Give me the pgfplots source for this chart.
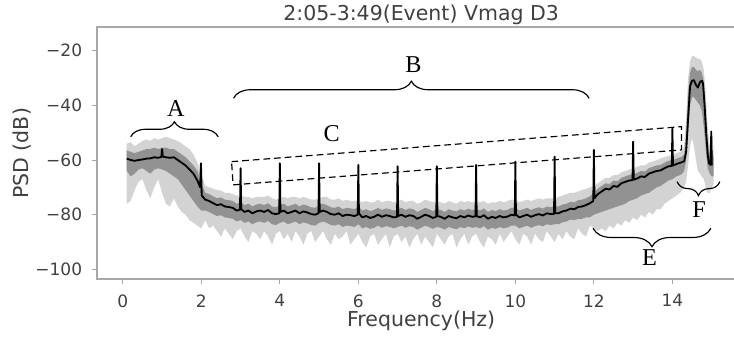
\documentclass[border=0pt]{standalone}
\usepackage{fontspec}
\setmainfont{DejaVu Sans}
\newfontfamily\annfont{Liberation Serif}
\usepackage{pgfplots}
\usepackage{pgfplotstable}
\pgfplotsset{compat=1.18}
\usepgfplotslibrary{fillbetween}
\usetikzlibrary{decorations.pathreplacing}
\definecolor{txt}{HTML}{404040}
\definecolor{spine}{HTML}{A8A8A8}
\definecolor{bandout}{HTML}{D3D3D3}
\definecolor{bandin}{HTML}{929292}

\pgfplotstableread{
f u2 u1 l1 l2
0.1 -54.0 -56.5 -64.0 -76
0.2 -53.5 -57.0 -66.0 -75
0.3 -55.0 -57.5 -65.0 -71
0.4 -54.0 -57.0 -63.5 -68
0.5 -53.0 -56.5 -63.0 -67
0.6 -52.5 -56.0 -64.0 -71
0.7 -53.0 -56.0 -65.0 -74
0.8 -52.0 -55.5 -63.5 -70
0.9 -52.5 -56.0 -63.0 -67
1.0 -52.0 -55.5 -63.5 -72
1.1 -51.5 -55.5 -64.0 -76
1.2 -52.0 -56.0 -65.0 -77
1.3 -52.5 -56.0 -66.0 -74
1.4 -53.0 -57.0 -67.0 -77
1.5 -54.0 -58.0 -69.0 -79
1.6 -55.0 -59.0 -71.0 -80
1.7 -56.0 -60.5 -73.0 -82
1.8 -58.0 -62.0 -75.0 -83
1.9 -61.0 -64.0 -77.0 -84
2.0 -65.0 -68.5 -78.5 -85
2.1 -69.5 -72.0 -78.5 -82
2.2 -70.0 -72.5 -79.0 -85
2.3 -70.5 -73.3 -79.8 -84
2.4 -71.0 -74.0 -80.5 -86
2.5 -71.2 -73.7 -80.2 -88
2.6 -72.0 -74.5 -81.0 -85
2.7 -72.0 -74.7 -81.2 -87
2.8 -72.5 -75.0 -81.5 -89
2.9 -73.0 -76.0 -82.5 -86
3.0 -73.0 -75.5 -82.0 -85
3.1 -73.5 -76.5 -83.0 -88
3.2 -73.5 -76.0 -82.5 -90
3.3 -74.0 -77.0 -83.5 -86
3.4 -73.5 -76.3 -82.8 -87
3.5 -73.5 -76.0 -82.5 -89
3.6 -73.5 -76.5 -83.0 -86
3.7 -73.0 -75.8 -82.3 -88
3.8 -74.0 -77.0 -83.5 -91
3.9 -74.5 -77.3 -83.8 -87
4.0 -74.0 -76.5 -83.0 -86
4.1 -73.5 -76.0 -82.5 -89
4.2 -74.0 -77.0 -83.5 -87
4.3 -73.5 -76.5 -83.0 -90
4.4 -73.5 -76.0 -82.5 -86
4.5 -74.0 -77.0 -83.5 -88
4.6 -73.5 -76.3 -82.8 -91
4.7 -74.0 -76.7 -83.2 -87
4.8 -74.5 -77.3 -83.8 -86
4.9 -74.5 -77.5 -84.0 -90
5.0 -74.0 -76.5 -83.0 -88
5.1 -73.5 -76.0 -82.5 -86
5.2 -73.5 -76.5 -83.0 -89
5.3 -74.5 -77.3 -83.8 -91
5.4 -74.5 -77.5 -84.0 -87
5.5 -74.0 -77.0 -83.5 -89
5.6 -75.0 -78.0 -84.5 -88
5.7 -74.5 -77.5 -84.0 -86
5.8 -75.0 -77.7 -84.2 -91
5.9 -75.0 -78.0 -84.5 -89
6.0 -74.5 -77.0 -83.5 -87
6.1 -75.5 -78.5 -85.0 -90
6.2 -75.0 -78.0 -84.5 -92
6.3 -75.5 -78.7 -85.2 -88
6.4 -75.5 -78.3 -84.8 -87
6.5 -74.5 -77.5 -84.0 -91
6.6 -75.5 -78.3 -84.8 -89
6.7 -75.0 -77.7 -84.2 -87
6.8 -75.0 -78.0 -84.5 -92
6.9 -75.5 -78.5 -85.0 -88
7.0 -75.0 -78.0 -84.5 -87
7.1 -74.5 -77.5 -84.0 -90
7.2 -75.5 -78.3 -84.8 -88
7.3 -75.0 -77.7 -84.2 -92
7.4 -75.0 -78.0 -84.5 -89
7.5 -76.0 -79.0 -85.5 -87
7.6 -75.5 -78.3 -84.8 -91
7.7 -74.5 -77.5 -84.0 -88
7.8 -75.0 -78.0 -84.5 -90
7.9 -75.5 -78.7 -85.2 -92
8.0 -75.0 -78.0 -84.5 -87
8.1 -75.5 -78.3 -84.8 -89
8.2 -76.0 -79.0 -85.5 -91
8.3 -75.0 -78.0 -84.5 -88
8.4 -75.5 -78.5 -85.0 -87
8.5 -76.0 -78.8 -85.3 -92
8.6 -75.0 -78.0 -84.5 -89
8.7 -75.5 -78.5 -85.0 -87
8.8 -75.0 -77.8 -84.3 -91
8.9 -75.5 -78.3 -84.8 -88
9.0 -75.0 -78.0 -84.5 -87
9.1 -75.5 -78.5 -85.0 -90
9.2 -75.0 -77.7 -84.2 -92
9.3 -76.0 -79.0 -85.5 -88
9.4 -75.5 -78.3 -84.8 -89
9.5 -75.5 -78.7 -85.2 -91
9.6 -75.0 -78.0 -84.5 -87
9.7 -75.5 -78.5 -85.0 -90
9.8 -75.0 -78.2 -84.7 -88
9.9 -74.5 -77.5 -84.0 -86
10.0 -74.5 -77.5 -84.0 -89
10.1 -75.5 -78.5 -85.0 -91
10.2 -75.0 -78.0 -84.5 -87
10.3 -74.5 -77.5 -84.0 -88
10.4 -75.0 -78.3 -84.8 -91
10.5 -74.5 -77.7 -84.2 -87
10.6 -74.0 -77.3 -83.8 -89
10.7 -74.5 -77.8 -84.3 -90
10.8 -74.0 -77.0 -83.5 -86
10.9 -74.0 -77.3 -83.8 -88
11.0 -74.0 -77.0 -83.5 -90
11.1 -73.5 -77.0 -83.5 -87
11.2 -73.0 -76.3 -82.8 -89
11.3 -72.5 -76.0 -82.5 -86
11.4 -72.0 -75.3 -81.8 -88
11.5 -72.0 -75.5 -82.0 -89
11.6 -71.5 -74.7 -81.5 -85
11.7 -71.0 -74.5 -81.5 -87
11.8 -70.5 -74.0 -81.0 -88
11.9 -70.0 -73.3 -81.0 -84
12.0 -69.5 -72.0 -80.0 -85
12.1 -68.5 -70.5 -79.5 -86
12.2 -67.5 -69.5 -79.0 -85
12.3 -66.5 -68.5 -78.5 -86
12.4 -66.5 -68.8 -78.0 -84
12.5 -65.5 -67.5 -77.5 -85
12.6 -65.5 -67.8 -77.0 -83
12.7 -64.5 -66.5 -76.5 -84
12.8 -64.0 -66.0 -76.0 -82
12.9 -63.5 -65.5 -75.0 -83
13.0 -63.0 -65.2 -74.5 -81
13.1 -62.5 -64.8 -74.0 -82
13.2 -62.0 -64.0 -73.0 -80
13.3 -62.0 -64.2 -72.5 -81
13.4 -61.0 -63.0 -72.0 -79
13.5 -60.5 -62.5 -71.0 -80
13.6 -60.0 -62.0 -70.0 -78
13.7 -59.5 -61.8 -69.5 -78
13.8 -59.0 -61.0 -68.5 -76
13.9 -58.5 -60.3 -67.5 -75
14.0 -58.0 -60.0 -67.0 -74
14.1 -57.5 -59.5 -66.0 -73
14.2 -57.0 -59.0 -65.5 -72
14.25 -56.5 -58.7 -65.0 -71
14.30 -55.0 -58.0 -64.0 -70
14.35 -45.0 -50.0 -60.0 -68
14.40 -30.0 -36.0 -50.0 -62
14.45 -24.0 -28.0 -40.0 -55
14.50 -22.0 -26.0 -37.0 -52
14.55 -22.0 -26.0 -37.0 -55
14.60 -22.5 -27.0 -38.0 -60
14.65 -23.0 -27.5 -39.0 -64
14.70 -23.0 -27.0 -40.0 -65
14.75 -24.0 -28.0 -42.0 -66
14.80 -27.0 -31.0 -48.0 -67
14.85 -35.0 -42.0 -56.0 -70
14.90 -48.0 -53.0 -63.0 -72
14.95 -55.0 -58.0 -65.0 -72
15.00 -50.0 -56.0 -66.0 -70
15.05 -56.0 -59.0 -66.0 -69
}\band

\pgfplotstableread{
f m
0.10 -59.5
0.20 -60.0
0.30 -60.3
0.40 -60.0
0.50 -59.8
0.60 -59.5
0.70 -59.4
0.80 -59.0
0.90 -59.2
0.98 -58.9
1.00 -56.0
1.02 -58.8
1.10 -59.0
1.20 -59.2
1.30 -59.0
1.40 -60.0
1.50 -61.0
1.60 -62.0
1.70 -63.5
1.80 -65.0
1.90 -67.5
1.97 -70.0
1.99 -61.2
2.01 -73.0
2.10 -74.5
2.20 -75.0
2.30 -75.8
2.40 -76.5
2.50 -76.2
2.60 -77.0
2.70 -77.2
2.80 -77.5
2.90 -78.5
2.985 -78.2
3.00 -63.0
3.015 -78.0
3.10 -79.0
3.20 -78.5
3.30 -79.5
3.40 -78.8
3.50 -78.5
3.60 -79.0
3.70 -78.3
3.80 -79.5
3.90 -79.8
3.985 -79.5
4.00 -61.2
4.015 -79.0
4.10 -78.5
4.20 -79.5
4.30 -79.0
4.40 -78.5
4.50 -79.5
4.60 -78.8
4.70 -79.2
4.80 -79.8
4.90 -80.0
4.985 -79.5
5.00 -61.2
5.015 -79.0
5.10 -78.5
5.20 -79.0
5.30 -79.8
5.40 -80.0
5.50 -79.5
5.60 -80.5
5.70 -80.0
5.80 -80.2
5.90 -80.5
5.985 -80.0
6.00 -61.8
6.015 -79.5
6.10 -81.0
6.20 -80.5
6.30 -81.2
6.40 -80.8
6.50 -80.0
6.60 -80.8
6.70 -80.2
6.80 -80.5
6.90 -81.0
6.985 -80.8
7.00 -62.3
7.015 -80.5
7.10 -80.0
7.20 -80.8
7.30 -80.2
7.40 -80.5
7.50 -81.5
7.60 -80.8
7.70 -80.0
7.80 -80.5
7.90 -81.2
7.985 -80.8
8.00 -62.3
8.015 -80.5
8.10 -80.8
8.20 -81.5
8.30 -80.5
8.40 -81.0
8.50 -81.3
8.60 -80.5
8.70 -81.0
8.80 -80.3
8.90 -80.8
8.985 -80.6
9.00 -61.8
9.015 -80.5
9.10 -81.0
9.20 -80.2
9.30 -81.5
9.40 -80.8
9.50 -81.2
9.60 -80.5
9.70 -81.0
9.80 -80.7
9.90 -80.0
9.985 -80.3
10.00 -60.6
10.015 -80.0
10.10 -81.0
10.20 -80.5
10.30 -80.0
10.40 -80.8
10.50 -80.2
10.60 -79.8
10.70 -80.3
10.80 -79.5
10.90 -79.8
10.985 -79.7
11.00 -58.8
11.015 -79.5
11.10 -79.5
11.20 -78.8
11.30 -78.5
11.40 -77.8
11.50 -78.0
11.60 -77.2
11.70 -77.0
11.80 -76.5
11.90 -75.8
11.985 -75.0
12.00 -56.3
12.015 -74.0
12.10 -72.5
12.20 -71.5
12.30 -70.5
12.40 -70.8
12.50 -69.5
12.60 -69.8
12.70 -68.5
12.80 -68.0
12.90 -67.5
12.985 -67.4
13.00 -53.3
13.015 -67.2
13.10 -66.8
13.20 -66.0
13.30 -66.2
13.40 -65.0
13.50 -64.5
13.60 -64.0
13.70 -63.8
13.80 -63.0
13.90 -62.3
13.985 -62.2
14.00 -48.5
14.015 -62.0
14.10 -61.5
14.20 -61.0
14.30 -60.5
14.35 -57.0
14.40 -45.0
14.45 -33.0
14.50 -31.0
14.55 -30.8
14.60 -32.5
14.65 -33.5
14.70 -31.5
14.75 -31.0
14.78 -32.0
14.82 -40.0
14.86 -50.0
14.90 -58.0
14.93 -61.2
14.975 -61.8
14.99 -49.6
15.005 -62.0
}\meanline

\begin{document}
\begin{tikzpicture}
\begin{axis}[
  at={(0,0)}, anchor=south west,
  scale only axis, width=388.6pt, height=151.2pt,
  xmin=-0.65, xmax=15.85, ymin=-103.66, ymax=-11.44,
  xtick={0,2,4,6,8,10,12,14},
  xticklabels={0,2,4,6,8,10,12,14},
  ytick={-100,-80,-60,-40,-20},
  yticklabels={−100,−80,−60,−40,−20},
  tick align=outside, major tick length=3pt,
  xtick pos=left, ytick pos=left,
  tick style={spine, line width=0.6pt},
  axis line style={spine, line width=1.1pt},
  ticklabel style={font=\fontsize{10.2}{12}\selectfont, text=txt},
  xticklabel style={yshift=-2.6pt},
  yticklabel style={xshift=-2.6pt},
  every axis title shift=0pt,
  title={2:05-3:49(Event) Vmag D3},
  title style={at={(axis description cs:0.5,1.027)}, anchor=base, inner sep=0pt, font=\fontsize{12.3}{14}\selectfont, text=txt},
  xlabel={Frequency(Hz)},
  xlabel style={at={(axis description cs:0.5,-0.1876)}, anchor=base, inner sep=0pt, font=\fontsize{12.3}{14}\selectfont, text=txt},
  ylabel={PSD (dB)},
  ylabel style={at={(axis description cs:-0.1065,0.5)}, anchor=base, inner sep=0pt, font=\fontsize{12.3}{14}\selectfont, text=txt},
]
\addplot[name path=U2, draw=none, forget plot] table[x=f,y=u2]{\band};
\addplot[name path=L2, draw=none, forget plot] table[x=f,y=l2]{\band};
\addplot[name path=U1, draw=none, forget plot] table[x=f,y=u1]{\band};
\addplot[name path=L1, draw=none, forget plot] table[x=f,y=l1]{\band};
\addplot[bandout, draw=none] fill between[of=U2 and L2];
\addplot[bandin, draw=none] fill between[of=U1 and L1];
\addplot[black, line width=1.1pt, line join=round] table[x=f,y=m]{\meanline};

\draw[decorate, decoration={brace, amplitude=9pt}, line width=0.7pt] (axis cs:0.2,-51.5) -- (axis cs:2.43,-51.5);
\draw[decorate, decoration={brace, amplitude=10.2pt}, line width=0.7pt] (axis cs:2.82,-37.4) -- (axis cs:11.88,-37.4);
\draw[decorate, decoration={brace, amplitude=11pt, mirror}, line width=0.7pt] (axis cs:11.98,-85) -- (axis cs:14.98,-85);
\draw[decorate, decoration={brace, amplitude=8.4pt, mirror}, line width=0.7pt] (axis cs:14.12,-67.9) -- (axis cs:15.21,-67.9);
\draw[dash pattern=on 4pt off 2.4pt, line width=0.7pt] (axis cs:2.77,-60.6) -- (axis cs:14.23,-47.8) -- (axis cs:14.23,-56.3) -- (axis cs:2.81,-69.1) -- cycle;
\node[font=\annfont\fontsize{14.5}{16}\selectfont] at (axis cs:1.35,-41.1) {A};
\node[font=\annfont\fontsize{14.5}{16}\selectfont] at (axis cs:7.40,-25.2) {B};
\node[font=\annfont\fontsize{14.5}{16}\selectfont] at (axis cs:5.32,-50.5) {C};
\node[font=\annfont\fontsize{14.5}{16}\selectfont] at (axis cs:13.42,-95.7) {E};
\node[font=\annfont\fontsize{14.5}{16}\selectfont] at (axis cs:14.68,-78.3) {F};
\end{axis}
\pgfresetboundingbox
\path[use as bounding box] (-58.38pt,-34.02pt) rectangle (382.0pt,167.58pt);
\end{tikzpicture}
\end{document}
